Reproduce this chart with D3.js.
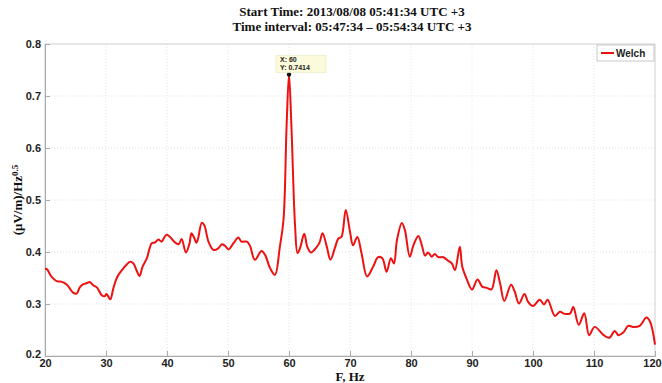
<!DOCTYPE html>
<html><head><meta charset="utf-8">
<script src="https://cdn.jsdelivr.net/npm/d3@7"></script>
<style>body{margin:0;background:#fff}</style>
</head><body>
<svg id="c" width="662" height="383"></svg>
<script>
const titleLines = ["Start Time: 2013/08/08 05:41:34 UTC +3", "Time interval: 05:47:34 \u2013 05:54:34 UTC +3"];
const xTicks = [20,30,40,50,60,70,80,90,100,110,120];
const yTicks = [0.2,0.3,0.4,0.5,0.6,0.7,0.8];
const seriesName = "Welch";
const freq = [20,20.3,21.1,21.9,22.7,23.6,24.6,25.2,25.7,26.3,26.8,27.4,27.9,28.5,29.3,29.8,30.1,30.7,31.2,31.8,32.6,33.4,33.9,34.5,35.0,35.5,36.0,36.7,37.5,38.0,38.6,39.1,39.9,40.5,41.0,41.9,42.4,43.1,43.7,44.0,44.4,44.8,45.1,45.7,46.1,46.8,47.6,48.4,49.0,49.5,50.1,50.9,51.7,52.2,53.1,53.6,54.4,55.5,56.1,56.9,57.7,58.5,59.1,59.6,60.0,60.4,61.0,61.4,61.8,62.5,63.0,63.6,64.5,65.0,65.5,66.2,66.8,67.5,68.1,68.6,69.3,70.0,70.5,71.2,71.9,72.8,73.8,74.6,75.3,76.0,76.7,77.2,77.7,78.5,79.0,79.8,80.4,81.2,81.8,82.3,82.8,83.4,83.9,84.5,85.3,86.1,86.7,87.2,88.0,88.4,89.1,90.0,90.9,91.7,92.4,93.2,94.0,94.6,95.3,96.4,97.0,97.7,98.6,99.2,100.0,101.1,101.8,102.4,103.6,104.4,105.2,106.1,106.6,107.5,108.4,109.2,110.1,111.6,112.5,113.4,114.0,114.8,115.6,116.4,117.5,118.6,119.2,120];
const welch = [0.368,0.367,0.352,0.344,0.343,0.337,0.322,0.320,0.332,0.338,0.340,0.342,0.336,0.332,0.317,0.315,0.319,0.309,0.330,0.351,0.365,0.376,0.381,0.378,0.365,0.354,0.372,0.388,0.417,0.418,0.424,0.420,0.433,0.429,0.422,0.415,0.425,0.399,0.417,0.436,0.429,0.418,0.426,0.456,0.452,0.420,0.404,0.407,0.415,0.412,0.405,0.417,0.428,0.420,0.420,0.412,0.385,0.402,0.394,0.369,0.356,0.410,0.462,0.641,0.7414,0.641,0.449,0.398,0.407,0.435,0.410,0.399,0.409,0.418,0.436,0.410,0.385,0.407,0.426,0.429,0.481,0.439,0.413,0.429,0.397,0.353,0.372,0.390,0.388,0.362,0.388,0.378,0.423,0.456,0.442,0.391,0.413,0.431,0.412,0.393,0.399,0.391,0.396,0.390,0.390,0.383,0.378,0.365,0.410,0.372,0.349,0.328,0.347,0.333,0.331,0.328,0.365,0.340,0.306,0.337,0.324,0.301,0.319,0.304,0.296,0.308,0.299,0.308,0.277,0.285,0.281,0.282,0.294,0.260,0.282,0.240,0.256,0.240,0.235,0.248,0.240,0.245,0.258,0.256,0.258,0.274,0.266,0.222];
const tipX = 60, tipY = 0.7414;

const svg = d3.select("#c");
const L = 45, R = 655, T = 44, B = 356;
const x = d3.scaleLinear().domain([20,120]).range([L,R]);
const y = d3.scaleLinear().domain([0.2,0.8]).range([B,T]);

// grid
const g = svg.append("g");
g.selectAll(".gx").data(xTicks.slice(1,-1)).enter().append("line")
  .attr("x1",d=>x(d)).attr("x2",d=>x(d)).attr("y1",T).attr("y2",B)
  .attr("stroke","#e4e4e4").attr("stroke-width",1).attr("stroke-dasharray","1,2");
g.selectAll(".gy").data(yTicks.slice(1,-1)).enter().append("line")
  .attr("x1",L).attr("x2",R).attr("y1",d=>y(d)).attr("y2",d=>y(d))
  .attr("stroke","#e4e4e4").attr("stroke-width",1).attr("stroke-dasharray","1,2");

// box
svg.append("rect").attr("x",L).attr("y",T).attr("width",R-L).attr("height",B-T)
  .attr("fill","none").attr("stroke","#d0d0d0").attr("stroke-width",1);

// axes
const fontTick = "bold 11px 'Liberation Sans', Arial, sans-serif";
const xAxis = svg.append("g").attr("transform",`translate(0,${B})`)
  .call(d3.axisBottom(x).tickValues(xTicks).tickSize(-5).tickPadding(3).tickFormat(d3.format("d")));
const yAxis = svg.append("g").attr("transform",`translate(${L},0)`)
  .call(d3.axisLeft(y).tickValues(yTicks).tickSize(-5).tickPadding(4).tickFormat(d3.format(".1f")));
[xAxis,yAxis].forEach(a=>{
  a.select(".domain").attr("stroke","#aaa");
  a.selectAll(".tick line").attr("stroke","#aaa");
  a.selectAll("text").style("font",fontTick).attr("fill","#222");
});
yAxis.selectAll(".tick").filter(d=>d===0.2).select("text").attr("dy","0.1em");
xAxis.selectAll(".tick").filter(d=>d===120).select("text").attr("dx","-3");

// line
const line = d3.line().x((d,i)=>x(freq[i])).y(d=>y(d)).curve(d3.curveCatmullRom.alpha(0.5));
svg.append("path").datum(welch).attr("d",line).attr("fill","none")
  .attr("stroke","#ee1111").attr("stroke-width",2).attr("stroke-linejoin","round");

// data tip
svg.append("circle").attr("cx",x(tipX)).attr("cy",y(tipY)).attr("r",2.2).attr("fill","#111");
const tg = svg.append("g").attr("transform",`translate(${x(tipX)-13},${y(tipY)-19})`);
tg.append("rect").attr("width",50).attr("height",17).attr("fill","#fbfbdc").attr("stroke","#e6e6c0").attr("stroke-width",0.6);
tg.append("text").attr("x",4).attr("y",7).text("X: " + tipX).style("font","bold 7px 'Liberation Sans', Arial, sans-serif").attr("fill","#222");
tg.append("text").attr("x",4).attr("y",14.5).text("Y: " + tipY).style("font","bold 7px 'Liberation Sans', Arial, sans-serif").attr("fill","#222");

// legend
const lg = svg.append("g").attr("transform","translate(597,45)");
lg.append("rect").attr("width",57).attr("height",16).attr("fill","#fff").attr("stroke","#bbb").attr("stroke-width",0.8);
lg.append("line").attr("x1",4).attr("x2",17).attr("y1",8).attr("y2",8).attr("stroke","#ee1111").attr("stroke-width",2);
lg.append("text").attr("x",19).attr("y",12).text(seriesName).style("font","bold 10px 'Liberation Sans', Arial, sans-serif").attr("fill","#222");

// titles
const serif = "'Liberation Serif', 'Times New Roman', serif";
titleLines.forEach((t,i)=>{
  svg.append("text").attr("x",352).attr("y",16+i*15).attr("text-anchor","middle")
    .text(t).style("font",`bold 13px ${serif}`).attr("fill","#111");
});
svg.append("text").attr("x",350).attr("y",381).attr("text-anchor","middle")
  .text("F, Hz").style("font",`bold 13px ${serif}`).attr("fill","#111");
const yl = svg.append("text").attr("transform","translate(22,200) rotate(-90)").attr("text-anchor","middle")
  .style("font",`bold 13px ${serif}`).attr("fill","#111");
yl.append("tspan").text("(\u03bcV/m)/Hz");
yl.append("tspan").attr("dy","-0.45em").style("font-size","9px").text("0.5");
</script>
</body></html>
